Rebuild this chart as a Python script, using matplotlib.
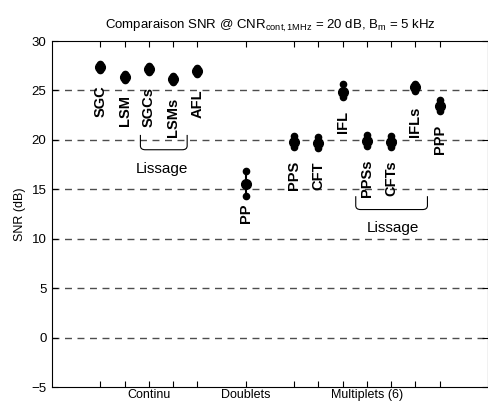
import matplotlib
matplotlib.use('Agg')
import matplotlib.pyplot as plt
from matplotlib.path import Path
from matplotlib.patches import PathPatch

plt.rcParams['font.family'] = ['Liberation Sans', 'DejaVu Sans']
plt.rcParams['mathtext.fontset'] = 'custom'
plt.rcParams['mathtext.rm'] = 'Liberation Sans'
plt.rcParams['mathtext.it'] = 'Liberation Sans:italic'

# data
methods = ['SGC', 'LSM', 'SGCs', 'LSMs', 'AFL', 'PP', 'PPS', 'CFT', 'IFL', 'PPSs', 'CFTs', 'IFLs', 'PPP']
xpos = [2, 3, 4, 5, 6, 8, 10, 11, 12, 13, 14, 15, 16]
snr_mean = [27.4, 26.4, 27.2, 26.2, 27.0, 15.5, 19.8, 19.7, 24.8, 19.9, 19.8, 25.3, 23.4]
snr_low = [27.05, 26.05, 26.85, 25.85, 26.65, 14.3, 19.3, 19.2, 24.3, 19.4, 19.3, 24.9, 22.9]
snr_high = [27.7, 26.7, 27.5, 26.5, 27.3, 16.8, 20.4, 20.3, 25.6, 20.5, 20.4, 25.7, 24.0]

group_ticks = [2, 3, 4, 5, 6, 8, 10, 11, 12, 13, 14, 15, 16]
group_labels = {4: 'Continu', 8: 'Doublets', 13: 'Multiplets (6)'}
yticks = [-5, 0, 5, 10, 15, 20, 25, 30]

fig = plt.figure(figsize=(4.89, 4.04), dpi=100)
ax = fig.add_axes([52 / 489, 17 / 404, 436 / 489, 346 / 404])

for y in yticks[1:-1]:
    ax.axhline(y, color='0.3', linestyle=(0, (5, 4)), linewidth=1, zorder=1)

for x, m, lo, hi, name in zip(xpos, snr_mean, snr_low, snr_high, methods):
    ax.plot([x, x], [lo, hi], color='black', linewidth=1.5, zorder=3)
    ax.plot([x, x], [lo, hi], 'o', color='black', markersize=4.5, zorder=3)
    ax.plot(x, m, 'o', color='black', markersize=7, zorder=4)
    ax.text(x, m - 1.9, name, rotation=90, ha='center', va='top',
            fontsize=10.5, fontweight='bold')


def brace(x0, x1, ytop, ybot, r=0.2, dy=0.4):
    verts = [(x0, ytop), (x0, ybot + dy), (x0, ybot), (x0 + r, ybot),
             (x1 - r, ybot), (x1, ybot), (x1, ybot + dy), (x1, ytop)]
    codes = [Path.MOVETO, Path.LINETO, Path.CURVE3, Path.CURVE3,
             Path.LINETO, Path.CURVE3, Path.CURVE3, Path.LINETO]
    ax.add_patch(PathPatch(Path(verts, codes), fill=False, color='black', linewidth=0.8, zorder=3))


brace(3.65, 5.58, 20.5, 19.0)
ax.text(4.55, 17.1, 'Lissage', ha='center', va='center', fontsize=11)
brace(12.54, 15.5, 14.3, 12.95)
ax.text(14.07, 11.1, 'Lissage', ha='center', va='center', fontsize=11)

ax.set_xlim(0, 18)
ax.set_ylim(-5, 30)
ax.set_xticks(group_ticks)
ax.set_xticklabels([group_labels.get(t, '') for t in group_ticks], fontsize=9)
ax.set_yticks(yticks)
ax.tick_params(axis='x', direction='in', top=True, length=4, pad=1.5)
ax.tick_params(axis='y', direction='in', right=True, length=4, pad=4, labelsize=9.5)
ax.set_ylabel('SNR (dB)', fontsize=9, labelpad=4)
ax.set_title(r'Comparaison SNR @ CNR$_{\mathrm{cont,1MHz}}$ = 20 dB, B$_{\mathrm{m}}$ = 5 kHz',
             fontsize=9.5, pad=9)
for s in ax.spines.values():
    s.set_linewidth(0.8)

fig.savefig('out.png', dpi=100)
